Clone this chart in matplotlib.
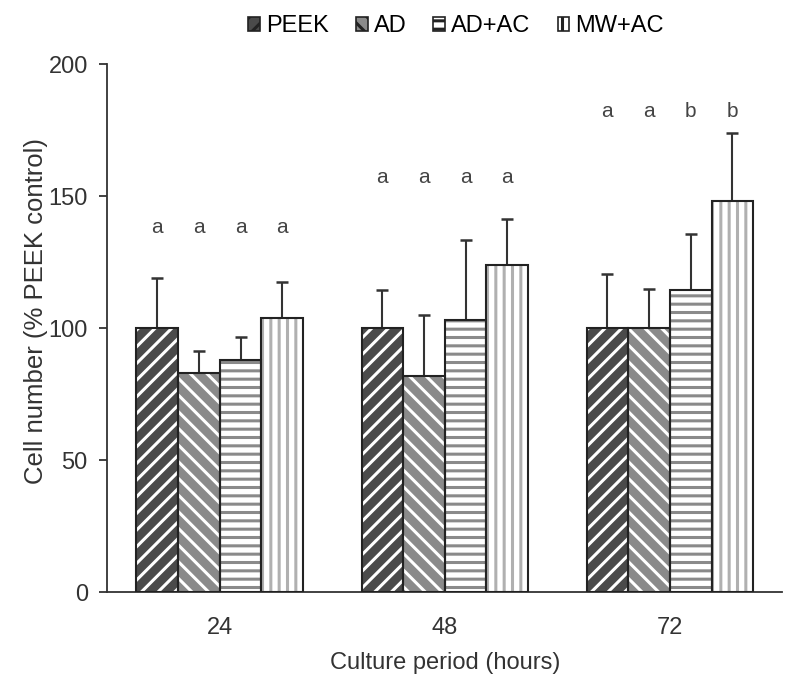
import matplotlib
matplotlib.use("Agg")
import matplotlib.pyplot as plt
import numpy as np
from matplotlib.patches import Patch

plt.rcParams['font.family'] = ['Liberation Sans', 'DejaVu Sans']
plt.rcParams['hatch.linewidth'] = 2.2

periods = ["24", "48", "72"]
series = ["PEEK", "AD", "AD+AC", "MW+AC"]
means = {
    "PEEK":  [100, 100, 100],
    "AD":    [83, 82, 100],
    "AD+AC": [88, 103, 114.5],
    "MW+AC": [104, 124, 148],
}
err_top = {
    "PEEK":  [119, 114.5, 120.5],
    "AD":    [91.5, 105, 114.8],
    "AD+AC": [96.5, 133.5, 135.6],
    "MW+AC": [117.5, 141.5, 174],
}
letters = [["a", "a", "a", "a"], ["a", "a", "a", "a"], ["a", "a", "b", "b"]]
letter_y = [138, 157, 182]

face = {"PEEK": "#4a4a4a", "AD": "#8a8a8a", "AD+AC": "white", "MW+AC": "white"}
hcol = {"PEEK": "white", "AD": "white", "AD+AC": "#8a8a8a", "MW+AC": "#b0b0b0"}
hatch = {"PEEK": "//", "AD": "\\\\", "AD+AC": "--", "MW+AC": "||"}

fig = plt.figure(figsize=(8, 6.9), dpi=100)
ax = fig.add_axes([0.134, 0.142, 0.844, 0.765])

x = np.arange(len(periods))
w = 0.185
for i, s in enumerate(series):
    pos = x + (i - 1.5) * w
    ax.bar(pos, means[s], w, color=face[s], edgecolor=hcol[s], hatch=hatch[s], linewidth=0, zorder=2)
    ax.bar(pos, means[s], w, fill=False, edgecolor="#222222", linewidth=1.5, zorder=3)
    up = np.array(err_top[s]) - np.array(means[s])
    ax.errorbar(pos, means[s], yerr=[np.zeros_like(up), up], fmt="none", ecolor="#333333",
                elinewidth=1.5, capsize=4.5, capthick=1.8, zorder=1)
    for j in range(len(periods)):
        ax.text(pos[j], letter_y[j], letters[j][i], ha="center", va="center", fontsize=15, color="#444444")

ax.set_xlim(-0.5, 2.5)
ax.set_ylim(0, 200)
ax.set_yticks([0, 50, 100, 150, 200])
ax.set_xticks(x)
ax.set_xticklabels(periods)
ax.tick_params(axis="x", length=0, labelsize=17, pad=18, colors="#333333")
ax.tick_params(axis="y", direction="out", length=6, width=1.3, labelsize=17, pad=8, colors="#333333")
for sp in ["top", "right"]:
    ax.spines[sp].set_visible(False)
for sp in ["left", "bottom"]:
    ax.spines[sp].set_linewidth(1.3)
    ax.spines[sp].set_color("#333333")
ax.set_xlabel("Culture period (hours)", fontsize=17, color="#333333", labelpad=9)
ax.set_ylabel("Cell number (% PEEK control)", fontsize=18.5, color="#333333")
ax.yaxis.set_label_coords(-0.088, 0.532)

handles = [Patch(facecolor=face[s], edgecolor="#222222", hatch=hatch[s], linewidth=1.2) for s in series]
fig.legend(handles, series, loc="center", bbox_to_anchor=(0.57, 0.962), ncol=4, frameon=False,
           fontsize=17, handlelength=0.5, handleheight=0.5, handletextpad=0.25, columnspacing=1.15)

fig.savefig("out.png", dpi=100)
